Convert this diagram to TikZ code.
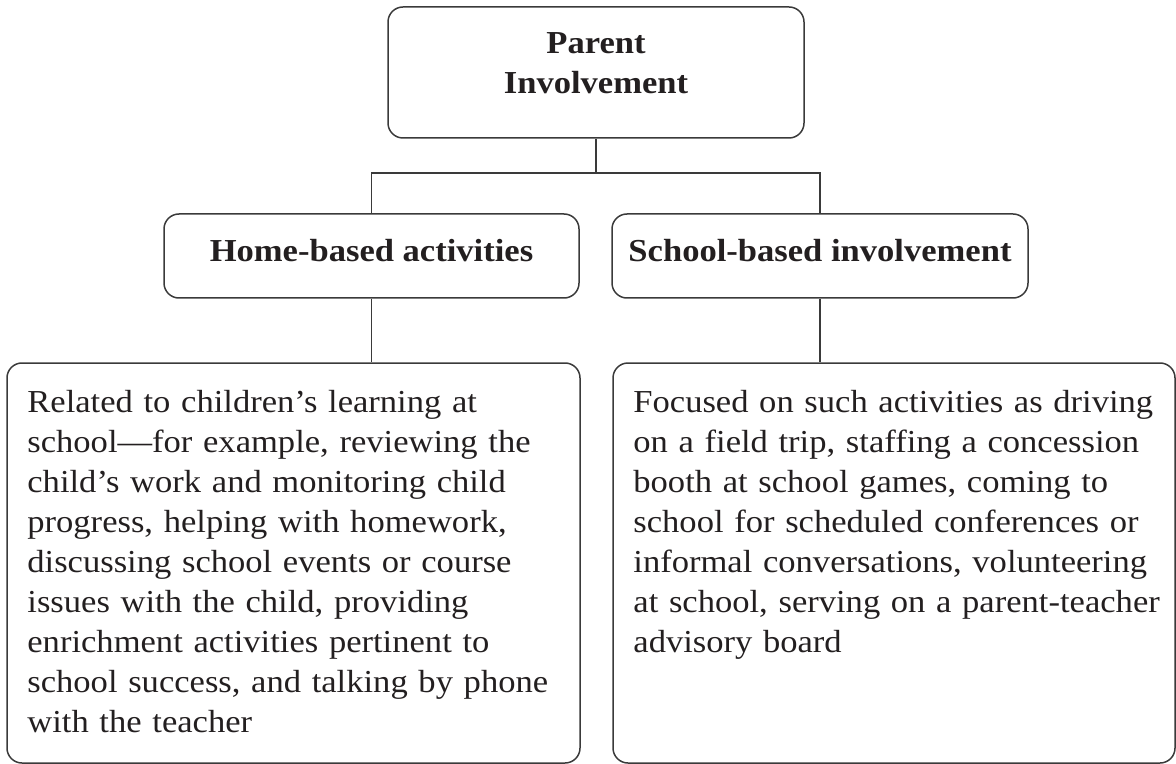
\documentclass[tikz,border=0pt]{standalone}
\usepackage{fontspec}
\setmainfont{Liberation Serif}[FakeStretch=1.08]
\definecolor{ink}{HTML}{231F20}
\definecolor{edgecol}{HTML}{3A3A3A}
\tikzset{
  box/.style={draw=edgecol, line width=0.75pt, rounded corners=7.5pt, inner sep=0pt},
  conn/.style={draw=edgecol, line width=0.7pt},
  headtxt/.style={text=ink, inner sep=0pt, font=\fontsize{16}{20}\selectfont\bfseries},
  bodytxt/.style={text=ink, inner sep=0pt, align=left, text width=290pt, font=\fontsize{16}{20}\selectfont},
}
\begin{document}
\begin{tikzpicture}[x=0.5pt,y=-0.5pt]
\useasboundingbox (0,0) rectangle (1176,764);
% boxes
\node[box, minimum width=208pt, minimum height=65.5pt] (top) at (596,72.5) {};
\node[box, minimum width=207.5pt, minimum height=42pt] (home) at (371.5,256) {};
\node[box, minimum width=208pt, minimum height=42pt] (school) at (820,256) {};
\node[box, minimum width=286.5pt, minimum height=200pt] (bl) at (293.5,563) {};
\node[box, minimum width=281pt, minimum height=200pt] (br) at (894,563) {};
% texts
\node[headtxt, align=center, text width=200pt, anchor=base] (toptxt) at (596,54) {Parent\\Involvement};
\node[headtxt, anchor=base] (hometxt) at (371.5,261.7) {Home-based activities};
\node[headtxt, anchor=base] (schooltxt) at (820,261.7) {School-based involvement};
\node[bodytxt, anchor=base west] (bltxt) at (27,412) {Related to children’s learning at\\
school—for example, reviewing the\\
child’s work and monitoring child\\
progress, helping with homework,\\
discussing school events or course\\
issues with the child, providing\\
enrichment activities pertinent to\\
school success, and talking by phone\\
with the teacher};
\node[bodytxt, anchor=base west] (brtxt) at (633,412) {Focused on such activities as driving\\
on a field trip, staffing a concession\\
booth at school games, coming to\\
school for scheduled conferences or\\
informal conversations, volunteering\\
at school, serving on a parent-teacher\\
advisory board};
% connectors
\coordinate (bus) at (596,173);
\draw[conn] (top.south) -- (bus);
\draw[conn] (home.north) |- (bus) -| (school.north);
\draw[conn] (home.south) -- (home.south |- bl.north);
\draw[conn] (school.south) -- (school.south |- br.north);
\end{tikzpicture}
\end{document}
